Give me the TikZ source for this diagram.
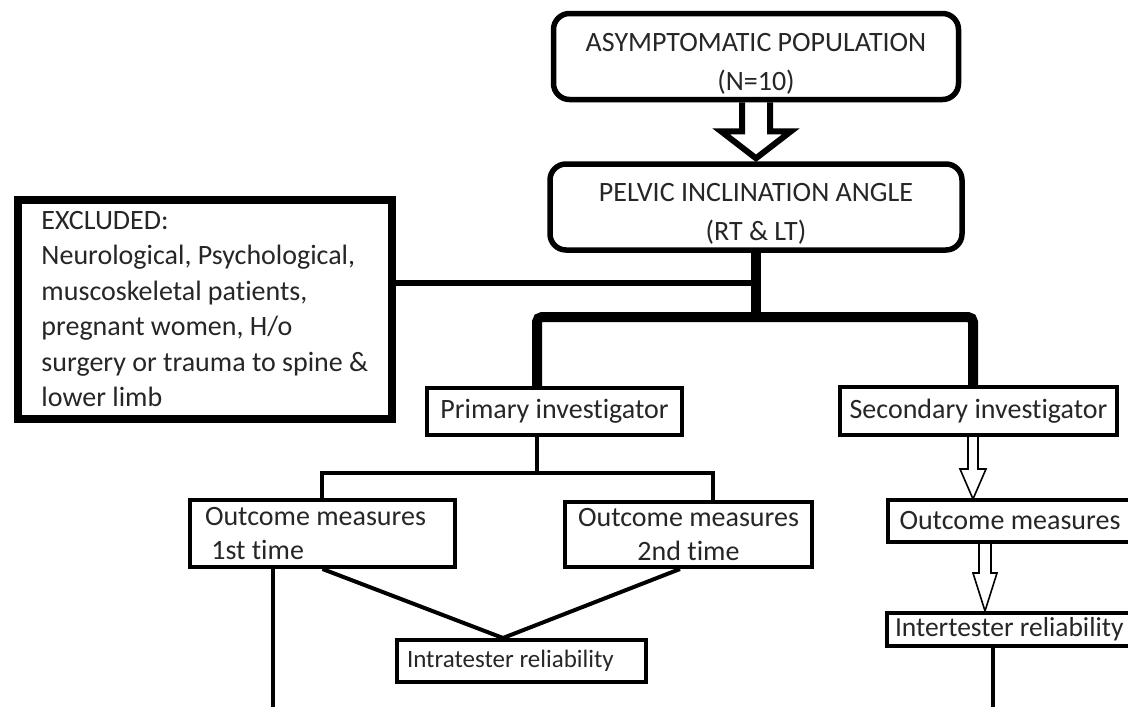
\documentclass[tikz,border=0pt]{standalone}
\usepackage{fontspec}
\setmainfont{Carlito}[Ligatures=NoCommon]
\usetikzlibrary{calc}

\begin{document}
\begin{tikzpicture}[x=1pt,y=-1pt]
			    \tikzstyle{terminal}=[rectangle,rounded corners=16pt,line width=5.5pt,draw=black,text=black!85,align=center,minimum width=405pt,minimum height=86pt,inner sep=0pt,font=\fontsize{28}{39}\selectfont]
			    \tikzstyle{excluded}=[rectangle,line width=8pt,draw=black,text=black!85,align=flush left,anchor=west,inner xsep=24pt,minimum width=373pt,minimum height=219pt,font=\fontsize{28}{35.5}\selectfont]
			    \tikzstyle{stage}=[rectangle,line width=4pt,draw=black,text=black!85,inner ysep=2pt,font=\fontsize{28}{34}\selectfont]
			    \tikzstyle{link}=[draw,line width=4pt]
			    \tikzstyle{trunk}=[draw,line width=10pt]
			    \tikzstyle{block}=[draw,line width=6pt,line join=miter]
			    \tikzstyle{hollow}=[draw,line width=1.6pt,line join=miter]
			    \path[use as bounding box,fill=white] (0,0) rectangle (1128,707);
			    \begin{scope}
					\node [terminal] (pop) at (756,56.5) {\rule{0pt}{33pt}ASYMPTOMATIC POPULATION\\(N=10)};
			        \node [terminal,minimum width=412pt] (angle) at (756,207) {\rule{0pt}{31pt}PELVIC INCLINATION ANGLE\\(RT \& LT)};
			        \node [excluded] (excl) at (13.5,309) {EXCLUDED:\\Neurological, Psychological,\\muscoskeletal patients,\\pregnant women, H/o\\surgery or trauma to spine \&\\lower limb};
			        \node [stage,minimum width=255pt,minimum height=47pt] (prim) at (554.5,411.5) {Primary investigator};
			        \node [stage,minimum width=277pt,minimum height=48pt] (sec) at (978.5,411) {Secondary investigator};
			        \node [stage,minimum width=265pt,minimum height=67pt,text width=235pt,align=flush left] (meas1) at (322.5,533.5) {Outcome measures\\\ 1st time};
			        \node [stage,minimum width=247pt,minimum height=65pt,align=center] (meas2) at (688.5,534.5) {Outcome measures\\2nd time};
			        \node [stage,minimum width=249pt,minimum height=42pt,text width=229pt,align=flush left,font=\fontsize{25}{30}\selectfont] (intra) at (521.5,661) {Intratester reliability};
			        \node [stage,minimum width=247pt,minimum height=42pt,text width=224pt,align=flush left] (meas3) at (1011.5,521) {Outcome measures};
			        \node [stage,minimum width=250pt,minimum height=33pt,text width=234pt,align=flush left,font=\fontsize{27.5}{33}\selectfont] (inter) at (1012,629) {Intertester reliability};
			        % junction points
			        \coordinate (junction) at (756,317);
			        \coordinate (leftdrop) at (537,317);
			        \coordinate (rightdrop) at (973,317);
			        \coordinate (side) at (756,283);
			        \coordinate (split) at (537,473);
			        \coordinate (arm1) at (322,473);
			        \coordinate (arm2) at (713,473);
			        \coordinate (meet) at (503,640);
			        \coordinate (foot2) at (680,567);
			        \coordinate (end1) at (273,707);
			        \coordinate (end2) at (993,707);
			        \coordinate (tip1) at (973,499);
			        \coordinate (tip2) at (985,611);
			        % connectors
			        \path[block] ($(pop.south)+(-14,0)$) -- ($(angle.north)+(-14,-30)$) -- ($(angle.north)+(-35,-30)$) -- ($(angle.north)+(0,-3)$) -- ($(angle.north)+(35,-30)$) -- ($(angle.north)+(14,-30)$) -- ($(pop.south)+(14,0)$);
			        \path[trunk] (angle.south) -- (junction);
			        \path[trunk,rounded corners=5pt] (prim.north -| leftdrop) -- (leftdrop) -- (rightdrop) -- (sec.north -| rightdrop);
			        \path[draw,line width=6.5pt] (excl.east |- side) -- (side);
			        \path[link] (prim.south -| split) -- (split);
			        \path[link] (meas1.north -| arm1) -- (arm1) -- (arm2) -- (meas2.north -| arm2);
			        \path[link] (meas1.south) -- (intra.north -| meet) -- (meas2.south -| foot2);
			        \path[link] (meas1.south -| end1) -- (end1);
			        \path[link] (inter.south -| end2) -- (end2);
			        \path[hollow] ($(sec.south -| tip1)+(-5,0)$) -- ($(tip1)+(-5,-30)$) -- ($(tip1)+(-13,-30)$) -- (tip1) -- ($(tip1)+(13,-30)$) -- ($(tip1)+(5,-30)$) -- ($(sec.south -| tip1)+(5,0)$);
			        \path[hollow] ($(meas3.south -| tip2)+(-6,0)$) -- ($(tip2)+(-6,-38)$) -- ($(tip2)+(-12,-38)$) -- (tip2) -- ($(tip2)+(12,-38)$) -- ($(tip2)+(6,-38)$) -- ($(meas3.south -| tip2)+(6,0)$);
			    \end{scope}
\end{tikzpicture}
\end{document}
